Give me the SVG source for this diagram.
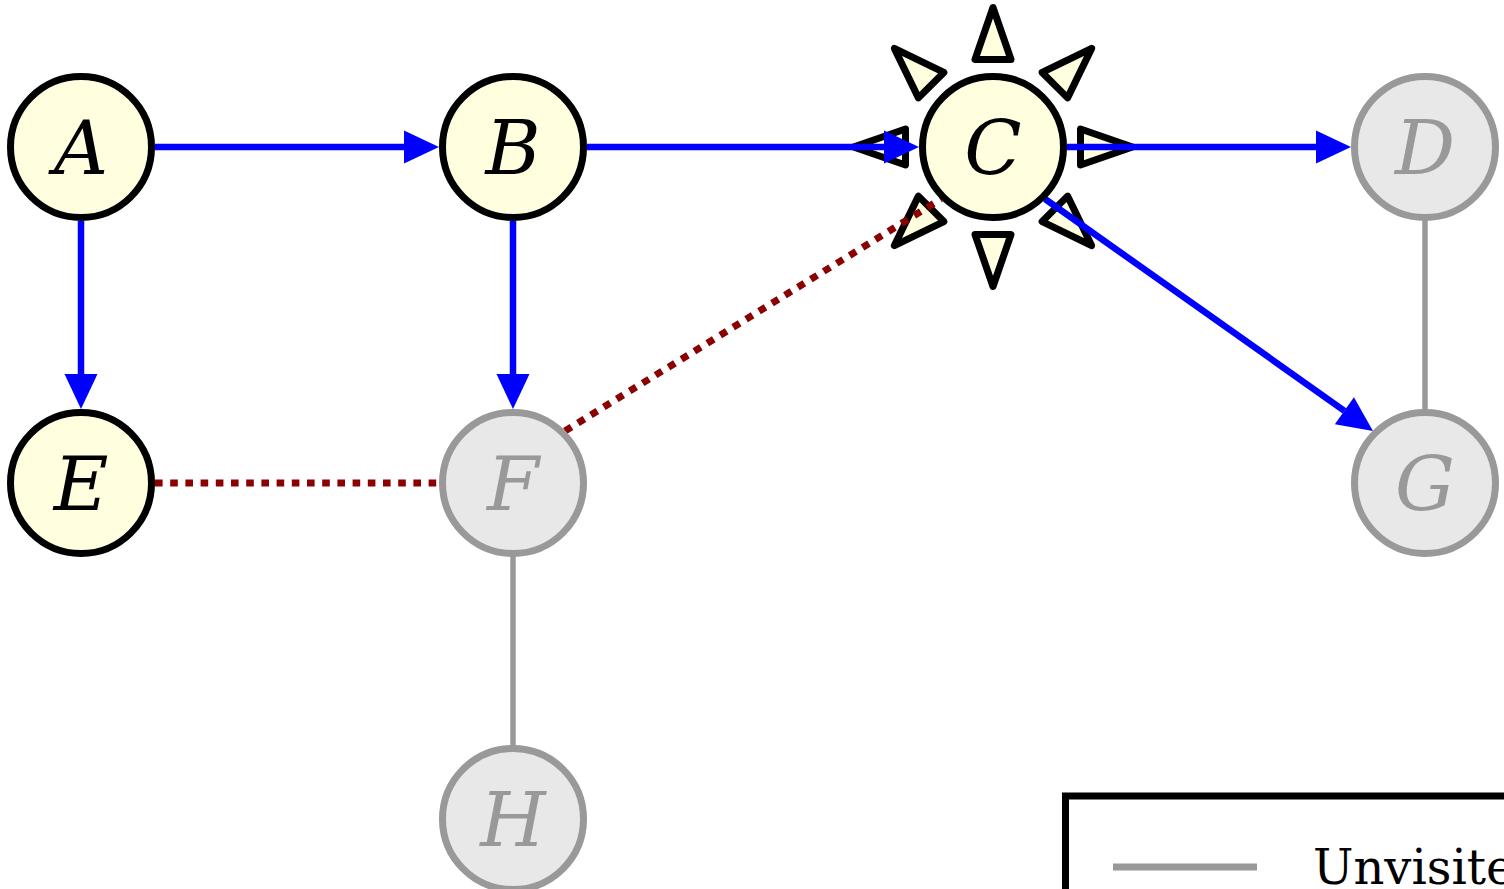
<svg xmlns="http://www.w3.org/2000/svg" width="1504" height="889" viewBox="0 0 1504 889">
  <defs>
    <style>
      .vis circle { fill: #ffffe0; stroke: #000; stroke-width: 7; }
      .vis text { fill: #000; }
      .unv circle { fill: #e8e8e8; stroke: #999999; stroke-width: 7; }
      .unv text { fill: #999999; }
      .lbl { font-family: "DejaVu Serif", serif; font-style: italic; font-size: 75px; text-anchor: middle; }
      .tree { stroke: #0000ff; stroke-width: 6.5; fill: none; }
      .back { stroke: #8b0000; stroke-width: 7; stroke-dasharray: 7.6 7.6; fill: none; }
      .plain { stroke: #999999; stroke-width: 5.5; fill: none; }
      .ray { fill: #ffffe0; stroke: #000; stroke-width: 7; stroke-linejoin: round; }
    </style>
    <marker id="arr" markerUnits="userSpaceOnUse" markerWidth="36" markerHeight="34" refX="0" refY="16.5" orient="auto" overflow="visible">
      <path d="M0,0 L35,16.5 L0,33 Z" fill="#0000ff"/>
    </marker>
    <polygon id="tri" points="0,-139.5 -18,-87.5 18,-87.5"/>
  </defs>

  <g id="burst-C" class="ray" transform="translate(993,147)">
    <use href="#tri"/>
    <use href="#tri" transform="rotate(45)"/>
    <use href="#tri" transform="rotate(90)"/>
    <use href="#tri" transform="rotate(135)"/>
    <use href="#tri" transform="rotate(180)"/>
    <use href="#tri" transform="rotate(225)"/>
    <use href="#tri" transform="rotate(270)"/>
    <use href="#tri" transform="rotate(315)"/>
  </g>

  <g id="connectors">
    <line class="plain" x1="1425" y1="147" x2="1425" y2="483"/>
    <line class="plain" x1="513" y1="483" x2="513" y2="819"/>
    <line class="back" x1="155" y1="483" x2="439" y2="483"/>
    <line class="back" x1="565" y1="431" x2="941" y2="199"/>
    <line class="tree" x1="155" y1="147" x2="404" y2="147" marker-end="url(#arr)"/>
    <line class="tree" x1="587" y1="147" x2="884" y2="147" marker-end="url(#arr)"/>
    <line class="tree" x1="1067" y1="147" x2="1316" y2="147" marker-end="url(#arr)"/>
    <line class="tree" x1="81" y1="221" x2="81" y2="374" marker-end="url(#arr)"/>
    <line class="tree" x1="513" y1="221" x2="513" y2="374" marker-end="url(#arr)"/>
    <line class="tree" x1="1045" y1="199" x2="1344.4" y2="410.8" marker-end="url(#arr)"/>
  </g>

  <g id="node-A" class="vis"><circle cx="81" cy="147" r="70.5"/><text class="lbl" x="81" y="174">A</text></g>
  <g id="node-B" class="vis"><circle cx="513" cy="147" r="70.5"/><text class="lbl" x="513" y="174">B</text></g>
  <g id="node-C" class="vis"><circle cx="993" cy="147" r="70.5"/><text class="lbl" x="993" y="174">C</text></g>
  <g id="node-D" class="unv"><circle cx="1425" cy="147" r="70.5"/><text class="lbl" x="1425" y="174">D</text></g>
  <g id="node-E" class="vis"><circle cx="81" cy="483" r="70.5"/><text class="lbl" x="81" y="510">E</text></g>
  <g id="node-F" class="unv"><circle cx="513" cy="483" r="70.5"/><text class="lbl" x="513" y="510">F</text></g>
  <g id="node-G" class="unv"><circle cx="1425" cy="483" r="70.5"/><text class="lbl" x="1425" y="510">G</text></g>
  <g id="node-H" class="unv"><circle cx="513" cy="819" r="70.5"/><text class="lbl" x="513" y="846">H</text></g>

  <g id="legend">
    <rect x="1065.5" y="796" width="600" height="300" fill="#fff" stroke="#000" stroke-width="7"/>
    <line x1="1113" y1="867" x2="1257" y2="867" stroke="#999999" stroke-width="7"/>
    <text x="1313" y="884" font-family="DejaVu Serif, serif" font-size="48" fill="#000">Unvisited</text>
  </g>
</svg>
